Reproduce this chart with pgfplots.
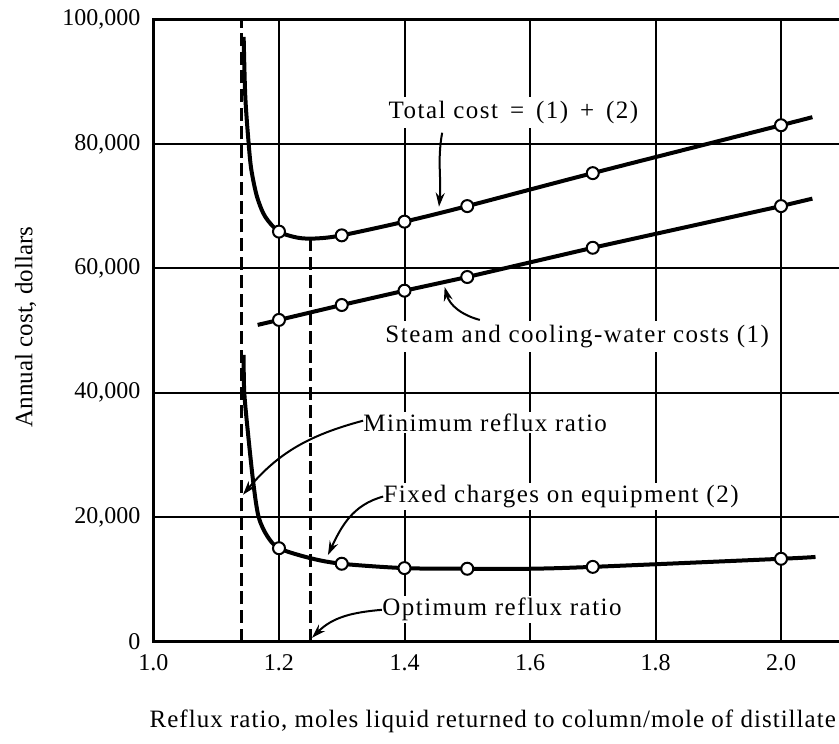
\documentclass[border=0pt]{standalone}
\usepackage{fontspec}
\setmainfont{Liberation Serif}
\newfontfamily\annfont{Liberation Serif}[LetterSpace=6]
\newfontfamily\xlabfont{Liberation Serif}[LetterSpace=4.1]
\usepackage{pgfplots}
\pgfplotsset{compat=1.18}
\usetikzlibrary{arrows.meta}

\begin{document}
\begin{tikzpicture}
\begin{axis}[
  scale only axis,
  width=351.4pt, height=311pt,
  xmin=1, xmax=2.12, ymin=0, ymax=100000,
  scaled y ticks=false,
  scaled x ticks=false,
  axis line style={line width=1.5pt},
  xtick={1.0,1.2,1.4,1.6,1.8,2.0},
  xticklabels={1.0,1.2,1.4,1.6,1.8,2.0},
  ytick={0,20000,40000,60000,80000,100000},
  yticklabels={0,{20,000},{40,000},{60,000},{80,000},{100,000}},
  major tick length=0pt,
  grid=major,
  major grid style={line width=1pt, black},
  ticklabel style={font=\fontsize{12}{14}\selectfont},
  yticklabel style={xshift=-3pt},
  xticklabel style={yshift=-3pt},
  clip=false,
  xlabel={Reflux ratio, moles liquid returned to column/mole of distillate},
  xlabel style={at={(axis description cs:-0.006,-0.1286)}, anchor=west, inner sep=0pt, font=\xlabfont\fontsize{12.5}{14}\selectfont},
  ylabel={Annual cost, dollars},
  ylabel style={at={(axis description cs:-0.182,0.506)}, anchor=center, inner sep=0pt, font=\fontsize{12.5}{14}\selectfont},
]
% dashed reference lines
\addplot[black, line width=1.3pt, dash pattern=on 6.5pt off 2.8pt] coordinates {(1.14,0) (1.14,100000)};
\addplot[black, line width=1.3pt, dash pattern=on 6.5pt off 2.8pt] coordinates {(1.25,0) (1.25,64800)};

% annotation labels (white background interrupts the grid, as in the original)
\node[anchor=west, inner xsep=2pt, inner ysep=2pt, fill=white, font=\annfont\fontsize{12.5}{14}\selectfont] at (axis cs:1.3676,85000) {Total cost \,=\, (1) \,+\, (2)};
\node[anchor=west, inner xsep=2pt, inner ysep=2pt, fill=white, font=\annfont\fontsize{12.5}{14}\selectfont] at (axis cs:1.3626,49000) {Steam and cooling-water costs (1)};
\node[anchor=west, inner xsep=2pt, inner ysep=1pt, fill=white, font=\annfont\fontsize{12.5}{14}\selectfont] at (axis cs:1.3276,35200) {Minimum reflux ratio};
\node[anchor=west, inner xsep=2pt, inner ysep=1pt, fill=white, font=\annfont\fontsize{12.5}{14}\selectfont] at (axis cs:1.3596,23300) {Fixed charges on equipment (2)};
\node[anchor=west, inner xsep=2pt, inner ysep=1pt, fill=white, font=\annfont\fontsize{12.5}{14}\selectfont] at (axis cs:1.3576,5100) {Optimum reflux ratio};

% Total cost
\addplot[black, line width=2pt, smooth] coordinates {
(1.1437,97200) (1.1463,87600) (1.1517,80000) (1.156,75800) (1.165,71500) (1.178,68300)
(1.2,65900) (1.231,64900) (1.26,64800) (1.3,65300) (1.4,67500) (1.5,70000)
(1.7,75300) (2.0,83000) (2.05,84300)};
% Steam and cooling-water costs
\addplot[black, line width=2pt] coordinates {
(1.166,50900) (1.2,51700) (1.3,54100) (1.4,56400) (1.5,58600) (1.7,63300) (2.0,70000) (2.05,71200)};
% Fixed charges
\addplot[black, line width=2pt, smooth] coordinates {
(1.1437,46100) (1.1447,40000) (1.1517,32400) (1.1597,25000) (1.1676,20000) (1.181,17000)
(1.2,15000) (1.25,13400) (1.3,12500) (1.4,11800) (1.5,11700) (1.6,11700) (1.7,12000)
(2.0,13300) (2.055,13600)};

% markers
\addplot[only marks, mark=*, mark size=3pt, mark options={fill=white, draw=black, line width=1pt}] coordinates {
(1.2,65900) (1.3,65300) (1.4,67500) (1.5,70000) (1.7,75300) (2.0,83000)};
\addplot[only marks, mark=*, mark size=3pt, mark options={fill=white, draw=black, line width=1pt}] coordinates {
(1.2,51700) (1.3,54100) (1.4,56400) (1.5,58600) (1.7,63300) (2.0,70000)};
\addplot[only marks, mark=*, mark size=3pt, mark options={fill=white, draw=black, line width=1pt}] coordinates {
(1.2,15000) (1.3,12500) (1.4,11800) (1.5,11700) (1.7,12000) (2.0,13300)};

% arrows
\draw[line width=1pt, -{Stealth[length=7pt,width=4.5pt]}] (axis cs:1.46,81800) to[out=-100, in=85] (axis cs:1.455,69900);
\draw[line width=1pt, -{Stealth[length=7pt,width=4.5pt]}] (axis cs:1.520,51700) to[out=165, in=-75] (axis cs:1.464,57000);
\draw[line width=1pt, -{Stealth[length=7pt,width=4.5pt]}] (axis cs:1.334,35500) to[out=195, in=50] (axis cs:1.1427,23600);
\draw[line width=1pt, -{Stealth[length=7pt,width=4.5pt]}] (axis cs:1.366,23300) to[out=195, in=65] (axis cs:1.278,13900);
\draw[line width=1pt, -{Stealth[length=7pt,width=4.5pt]}] (axis cs:1.364,5100) to[out=185, in=45] (axis cs:1.2526,600);

\coordinate (bl) at (axis cs:0.7554,-16386);
\coordinate (tr) at (axis cs:2.0924,103133);
\end{axis}
\pgfresetboundingbox
\path[use as bounding box] (bl) rectangle (tr);
\end{tikzpicture}
\end{document}
